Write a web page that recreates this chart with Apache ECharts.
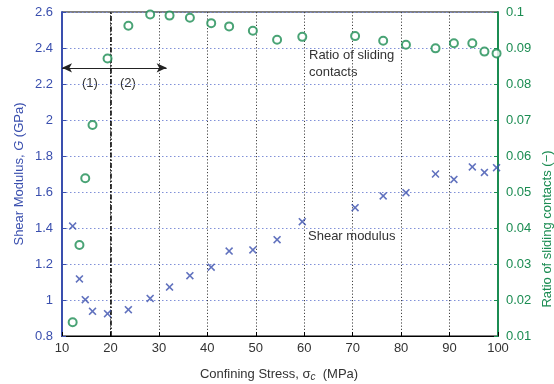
<!DOCTYPE html>
<html>
<head>
<meta charset="utf-8">
<script src="https://cdn.jsdelivr.net/npm/echarts@6/dist/echarts.min.js"></script>
<style>
  html, body { margin: 0; padding: 0; background: #fff; }
  #chart { width: 554px; height: 384px; }
</style>
</head>
<body>
<div id="chart"></div>
<script>
// confining stress (MPa) for each test
const stress = [12.2, 13.6, 14.8, 16.3, 19.4, 23.7, 28.2, 32.2, 36.4, 40.8, 44.5,
  49.4, 54.4, 59.6, 70.5, 76.3, 81.0, 87.1, 90.9, 94.7, 97.2, 99.7]
// shear modulus G (GPa)
const shearModulus = [1.411, 1.117, 1.002, 0.937, 0.924, 0.946, 1.009, 1.072, 1.135, 1.182, 1.272,
  1.278, 1.335, 1.435, 1.513, 1.578, 1.596, 1.700, 1.670, 1.739, 1.709, 1.735]
// ratio of sliding contacts (-)
const slidingRatio = [0.0138, 0.0353, 0.0538, 0.0686, 0.0871, 0.0962, 0.0993, 0.0990, 0.0984, 0.0969, 0.0960,
  0.0948, 0.0923, 0.0931, 0.0933, 0.0920, 0.0909, 0.0899, 0.0913, 0.0913, 0.0890, 0.0885]

const regimeBoundary = 20
const arrowSpan = [10, 31.6]
const arrowLevel = 2.29

const blue = "#3a4fae"
const green = "#1b8c52"
const textColor = "#333"
const font = "Liberation Sans, Arial, sans-serif"

const crossPath = "path://M0,1.4L1.4,0L5,3.6L8.6,0L10,1.4L6.4,5L10,8.6L8.6,10L5,6.4L1.4,10L0,8.6L3.6,5Z"

const chart = echarts.init(document.getElementById("chart"), null, { renderer: "canvas" })

const option = {
  animation: false,
  textStyle: { fontFamily: font },
  grid: {
    left: 62, top: 12, width: 436, height: 324,
    show: true, borderColor: "#000", borderWidth: 1,
  },
  xAxis: {
    type: "value",
    min: 10, max: 100, interval: 10,
    axisLine: { lineStyle: { color: "#000", width: 1.2 } },
    axisTick: { inside: true, length: 4, lineStyle: { color: "#000" } },
    axisLabel: { color: textColor, fontSize: 13, margin: 6, fontFamily: font },
    splitLine: { show: true, lineStyle: { color: "#444", type: [1.2, 2], width: 1 } },
  },
  yAxis: [
    {
      type: "value",
      min: 0.8, max: 2.6, interval: 0.2,
      axisLine: { show: true, lineStyle: { color: blue, width: 2 } },
      axisTick: { show: true, inside: true, length: 4, lineStyle: { color: blue } },
      axisLabel: {
        color: blue, fontSize: 13, margin: 9, fontFamily: font,
        formatter: (v) => String(+v.toFixed(2)),
      },
      splitLine: { show: true, lineStyle: { color: "#8090d8", type: [1.5, 2.5], width: 1 } },
    },
    {
      type: "value",
      min: 0.01, max: 0.1, interval: 0.01,
      position: "right",
      axisLine: { show: true, lineStyle: { color: green, width: 2 } },
      axisTick: { show: true, inside: true, length: 4, lineStyle: { color: green } },
      axisLabel: {
        color: green, fontSize: 13, margin: 8, fontFamily: font,
        formatter: (v) => String(+v.toFixed(3)),
      },
      splitLine: { show: false },
    },
  ],
  series: [
    {
      name: "Shear modulus",
      type: "scatter",
      yAxisIndex: 0,
      data: stress.map((s, i) => [s, shearModulus[i]]),
      symbol: crossPath,
      symbolSize: 8,
      itemStyle: { color: blue },
      z: 5,
      markLine: {
        silent: true,
        symbol: ["arrow", "arrow"],
        symbolSize: [7, 10],
        label: { show: false },
        data: [
          [
            { coord: [arrowSpan[0], arrowLevel] },
            { coord: [arrowSpan[1], arrowLevel] },
          ],
        ],
        lineStyle: { color: "#222", type: "solid", width: 1.2 },
      },
    },
    {
      name: "Ratio of sliding contacts",
      type: "scatter",
      yAxisIndex: 1,
      data: stress.map((s, i) => [s, slidingRatio[i]]),
      symbol: "emptyCircle",
      symbolSize: 8,
      itemStyle: { color: green, borderWidth: 1.5 },
      z: 5,
      markLine: {
        silent: true,
        symbol: ["none", "none"],
        label: { show: false },
        data: [{ xAxis: regimeBoundary }],
        lineStyle: { color: "#000", type: [5, 2, 1.5, 2], width: 1.5 },
      },
    },
  ],
  graphic: [
    {
      type: "text", left: 82, top: 77,
      style: { text: "(1)", fontSize: 13, fill: textColor, fontFamily: font },
    },
    {
      type: "text", left: 120, top: 77,
      style: { text: "(2)", fontSize: 13, fill: textColor, fontFamily: font },
    },
    {
      type: "text", left: 309, top: 47,
      style: { text: "Ratio of sliding\ncontacts", fontSize: 13, lineHeight: 17, fill: textColor, fontFamily: font },
    },
    {
      type: "text", left: 308, top: 230,
      style: { text: "Shear modulus", fontSize: 13, fill: textColor, fontFamily: font },
    },
    {
      type: "text", x: 19, y: 174, rotation: Math.PI / 2,
      style: {
        text: "{n|Shear Modulus, }{i|G}{n| (GPa)}",
        align: "center", verticalAlign: "middle",
        rich: {
          n: { fontSize: 13, fill: blue, fontFamily: font },
          i: { fontSize: 13, fill: blue, fontFamily: font, fontStyle: "italic" },
        },
      },
    },
    {
      type: "text", x: 547, y: 229, rotation: Math.PI / 2,
      style: {
        text: "Ratio of sliding contacts (\u2212)",
        align: "center", verticalAlign: "middle",
        fontSize: 13, fill: green, fontFamily: font,
      },
    },
    {
      type: "text", x: 279, y: 374,
      style: {
        text: "{n|Confining Stress, \u03c3}{s|c}{n|  (MPa)}",
        align: "center", verticalAlign: "middle",
        rich: {
          n: { fontSize: 13, fill: textColor, fontFamily: font },
          s: { fontSize: 10, fill: textColor, fontFamily: font, fontStyle: "italic", padding: [6, 0, 0, 0] },
        },
      },
    },
  ],
}

chart.setOption(option)
</script>
</body>
</html>
